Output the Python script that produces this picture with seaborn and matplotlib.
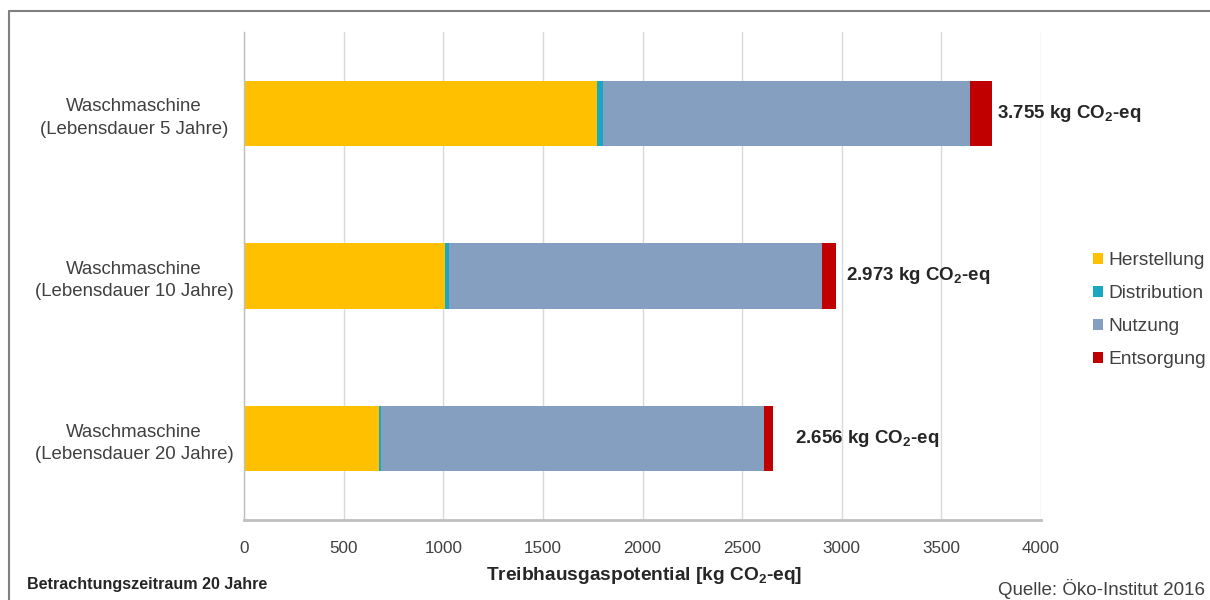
import matplotlib
matplotlib.use("Agg")
import matplotlib.pyplot as plt
import seaborn as sns
import pandas as pd
import numpy as np
from matplotlib.patches import Patch

categories = ["Waschmaschine\n(Lebensdauer 5 Jahre)",
              "Waschmaschine\n(Lebensdauer 10 Jahre)",
              "Waschmaschine\n(Lebensdauer 20 Jahre)"]
herstellung = [1773, 1010, 679]
distribution = [30, 20, 11]
nutzung = [1840, 1873, 1920]
entsorgung = [112, 70, 46]
totals_labels = ["3.755", "2.973", "2.656"]
series_names = ["Herstellung", "Distribution", "Nutzung", "Entsorgung"]
colors = ["#FFC000", "#1AA7C2", "#849FBF", "#C00000"]
xticks = [0, 500, 1000, 1500, 2000, 2500, 3000, 3500, 4000]

sns.set_theme(style="white")
plt.rcParams["font.family"] = ["Liberation Sans", "DejaVu Sans"]
plt.rcParams["mathtext.fontset"] = "custom"
plt.rcParams["mathtext.rm"] = "Liberation Sans"
plt.rcParams["mathtext.bf"] = "Liberation Sans:bold"

df = pd.DataFrame({"cat": categories, "H": herstellung, "D": distribution,
                   "N": nutzung, "E": entsorgung})
layers = ["H", "D", "N", "E"]
cum = df[layers].cumsum(axis=1)

fig = plt.figure(figsize=(12.1, 6.0), dpi=100)
ax = fig.add_axes([244/1210, 1-520/600, (1041-244)/1210, (520-32)/600])

# draw from full stack back to front
for i in range(len(layers)-1, -1, -1):
    sns.barplot(x=cum[layers[i]], y=df["cat"], orient="h", color=colors[i],
                width=0.4, ax=ax, saturation=1, edgecolor="none", linewidth=0)

ax.set_xlim(0, 4000)
ax.set_ylim(2.5, -0.5)
ax.set_xticks(xticks)
ax.set_xticklabels([str(v) for v in xticks], fontsize=12.3, color="#404040")
ax.set_yticks(range(3))
ax.set_yticklabels(categories, fontsize=13.4, color="#404040", ha="center",
                   linespacing=1.4)
ax.tick_params(axis="y", length=0, pad=79)
ax.set_yticks([-0.5, 0.5, 1.5], minor=True)
ax.tick_params(axis="y", which="minor", length=4, color="#BFBFBF", width=1)
ax.tick_params(axis="x", length=7, color="#BFBFBF", width=1, pad=8)
ax.set_xlabel("")
ax.set_ylabel("")
ax.grid(axis="x", color="#D9D9D9", linewidth=1)
ax.set_axisbelow(True)
for s in ["top", "right"]:
    ax.spines[s].set_visible(False)
ax.spines["left"].set_color("#BFBFBF")
ax.spines["left"].set_linewidth(1)
ax.spines["bottom"].set_color("#BFBFBF")
ax.spines["bottom"].set_linewidth(2)

# total labels
totals = cum["E"].tolist()
offsets = [25, 50, 110]
for i, (t, lab) in enumerate(zip(totals, totals_labels)):
    ax.text(t + offsets[i], i, lab + r" kg CO$_\mathbf{2}$-eq", fontsize=13.5,
            fontweight="bold", va="center", ha="left", color="#262626")

handles = [Patch(facecolor=c, edgecolor="none") for c in colors]
fig.legend(handles, series_names, loc="center left",
           bbox_to_anchor=(1093/1210, 1-310/600), frameon=False, fontsize=13.8,
           handlelength=0.5, handleheight=0.5, handletextpad=0.3,
           labelspacing=0.83, labelcolor="#404040", borderaxespad=0, borderpad=0)

fig.text(644/1210, 1-576/600, r"Treibhausgaspotential [kg CO$_\mathbf{2}$-eq]",
         ha="center", va="center", fontsize=13.8, fontweight="bold", color="#262626")
fig.text(27/1210, 1-584/600, "Betrachtungszeitraum 20 Jahre", ha="left",
         va="center", fontsize=11.6, fontweight="bold", color="#262626")
fig.text(1205/1210, 1-589/600, "Quelle: Öko-Institut 2016", ha="right",
         va="center", fontsize=13.5, color="#404040")

# outer frame lines (left and top)
fig.add_artist(plt.Line2D([9/1210, 9/1210], [0, 1-11/600], transform=fig.transFigure,
                          color="#808080", linewidth=1.5))
fig.add_artist(plt.Line2D([9/1210, 1], [1-11/600, 1-11/600], transform=fig.transFigure,
                          color="#808080", linewidth=1.5))

fig.savefig("out.png", dpi=100)
